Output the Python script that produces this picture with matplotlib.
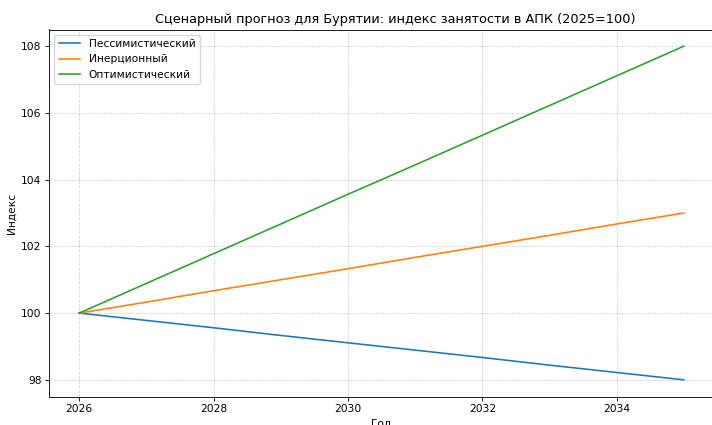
import matplotlib
matplotlib.use("Agg")
import matplotlib.pyplot as plt

years = [2026, 2027, 2028, 2029, 2030, 2031, 2032, 2033, 2034, 2035]
pessimistic = [100.0, 99.78, 99.56, 99.33, 99.11, 98.89, 98.67, 98.44, 98.22, 98.0]
inertial = [100.0, 100.33, 100.67, 101.0, 101.33, 101.67, 102.0, 102.33, 102.67, 103.0]
optimistic = [100.0, 100.89, 101.78, 102.67, 103.56, 104.44, 105.33, 106.22, 107.11, 108.0]
labels = ["Пессимистический", "Инерционный", "Оптимистический"]

s = 0.77
plt.rcParams.update({
    "font.size": 10 * s,
    "axes.titlesize": 12 * s,
    "lines.linewidth": 1.5 * s,
    "axes.linewidth": 0.8 * s,
    "xtick.major.size": 3.5 * s,
    "ytick.major.size": 3.5 * s,
    "xtick.major.width": 0.8 * s,
    "ytick.major.width": 0.8 * s,
    "xtick.major.pad": 3.5 * s,
    "ytick.major.pad": 3.5 * s,
    "axes.titlepad": 6 * s,
    "axes.labelpad": 4 * s,
    "legend.fontsize": 10 * s,
})

fig = plt.figure(figsize=(7.12, 4.25), dpi=100)
ax = fig.add_axes([49/712, 1 - 396.5/425, 665/712, 367/425])
ax.plot(years, pessimistic, color="#1f77b4", label=labels[0])
ax.plot(years, inertial, color="#ff7f0e", label=labels[1])
ax.plot(years, optimistic, color="#2ca02c", label=labels[2])
ax.set_title("Сценарный прогноз для Бурятии: индекс занятости в АПК (2025=100)",
             x=(395 - 49) / 665)
ax.set_xlabel("Год")
ax.set_ylabel("Индекс")
ax.spines["right"].set_visible(False)
ax.grid(True, linestyle="--", linewidth=0.8 * s, alpha=0.5)
ax.legend(loc="upper left")
fig.savefig("out.png", dpi=100)
